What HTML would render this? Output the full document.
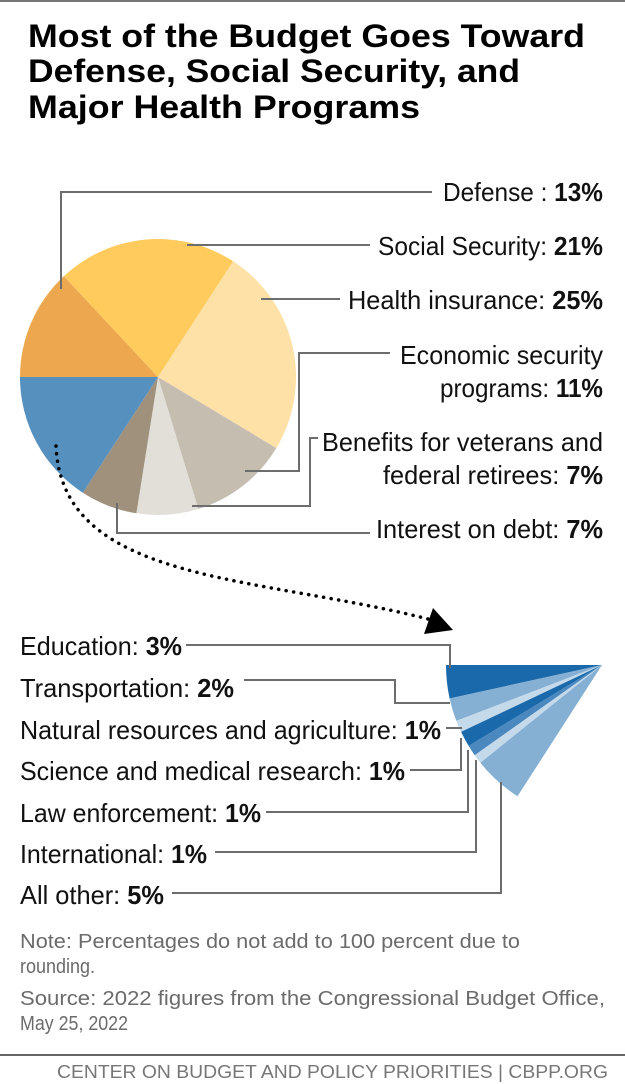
<!DOCTYPE html>
<html><head><meta charset="utf-8"><style>
html,body{margin:0;padding:0;background:#fff;}
svg{display:block;}
text{font-family:"Liberation Sans",sans-serif;}
</style></head><body>
<svg width="625" height="1084" viewBox="0 0 625 1084" xmlns="http://www.w3.org/2000/svg">
<rect x="0" y="0" width="625" height="2" fill="#777"/>
<g font-weight="bold" font-size="32" fill="#000">
<text x="28" y="47" textLength="557" lengthAdjust="spacingAndGlyphs">Most of the Budget Goes Toward</text>
<text x="28" y="82" textLength="492" lengthAdjust="spacingAndGlyphs">Defense, Social Security, and</text>
<text x="28" y="118" textLength="392" lengthAdjust="spacingAndGlyphs">Major Health Programs</text>
</g>
<g>
<path d="M158,377 L20,377 A138,138 0 0 1 63.9,276.1 Z" fill="#eda84f"/>
<path d="M158,377 L63.9,276.1 A138,138 0 0 1 233.2,261.3 Z" fill="#fecb5c"/>
<path d="M158,377 L233.2,261.3 A138,138 0 0 1 276.3,448.1 Z" fill="#fde1a6"/>
<path d="M158,377 L276.3,448.1 A138,138 0 0 1 198.3,509 Z" fill="#c5bdb0"/>
<path d="M158,377 L198.3,509 A138,138 0 0 1 136.4,513.3 Z" fill="#e2dfd9"/>
<path d="M158,377 L136.4,513.3 A138,138 0 0 1 82.8,492.7 Z" fill="#a0917d"/>
<path d="M158,377 L82.8,492.7 A138,138 0 0 1 20,377 Z" fill="#5590bf"/>
</g>
<g fill="none" stroke="#6d6d6d" stroke-width="2">
<polyline points="61,289 61,192 432,192"/>
<polyline points="187,245 370,245"/>
<polyline points="261,299 340,299"/>
<polyline points="245,471 299,471 299,353 390,353"/>
<polyline points="192,506 310,506 310,438 318,438"/>
<polyline points="117,503 117,533 370,533"/>
</g>
<g font-size="26" fill="#111">
<text x="443" y="201" textLength="160" lengthAdjust="spacingAndGlyphs">Defense : <tspan font-weight="bold">13%</tspan></text>
<text x="378" y="255" textLength="225" lengthAdjust="spacingAndGlyphs">Social Security: <tspan font-weight="bold">21%</tspan></text>
<text x="348" y="309" textLength="255" lengthAdjust="spacingAndGlyphs">Health insurance: <tspan font-weight="bold">25%</tspan></text>
<text x="400" y="364" textLength="203" lengthAdjust="spacingAndGlyphs">Economic security</text>
<text x="440" y="397" textLength="163" lengthAdjust="spacingAndGlyphs">programs: <tspan font-weight="bold">11%</tspan></text>
<text x="322" y="451" textLength="281" lengthAdjust="spacingAndGlyphs">Benefits for veterans and</text>
<text x="383" y="484" textLength="220" lengthAdjust="spacingAndGlyphs">federal retirees: <tspan font-weight="bold">7%</tspan></text>
<text x="376" y="538" textLength="227" lengthAdjust="spacingAndGlyphs">Interest on debt: <tspan font-weight="bold">7%</tspan></text>
</g>
<path d="M56,446 C 62,585 260,575 432,620" fill="none" stroke="#000" stroke-width="3.5" stroke-linecap="round" stroke-dasharray="0.1 7.5"/>
<polygon points="453,630 424,634 433,608" fill="#000"/>
<g>
<path d="M602,665 L446,665 A156,156 0 0 0 449.6,698.5 Z" fill="#1a69aa"/>
<path d="M602,665 L449.6,698.5 A156,156 0 0 0 456.4,720.9 Z" fill="#85b0d4"/>
<path d="M602,665 L456.4,720.9 A156,156 0 0 0 461.1,731.9 Z" fill="#c4d9ea"/>
<path d="M602,665 L461.1,731.9 A156,156 0 0 0 468.7,746 Z" fill="#1a69aa"/>
<path d="M602,665 L468.7,746 A156,156 0 0 0 474.7,755.2 Z" fill="#4a88bf"/>
<path d="M602,665 L474.7,755.2 A156,156 0 0 0 480.4,762.7 Z" fill="#c4d9ea"/>
<path d="M602,665 L480.4,762.7 A156,156 0 0 0 517.5,796.3 Z" fill="#85b0d4"/>
</g>
<g fill="none" stroke="#6d6d6d" stroke-width="2">
<polyline points="186,645 450,645 450,668"/>
<polyline points="244,680 395,680 395,703 450,703"/>
<polyline points="446,728 462,728"/>
<polyline points="410,770 461,770 461,738"/>
<polyline points="266,812 468,812 468,750"/>
<polyline points="215,852 476,852 476,760"/>
<polyline points="172,893 501,893 501,782"/>
</g>
<g font-size="26" fill="#111">
<text x="20" y="655" textLength="162" lengthAdjust="spacingAndGlyphs">Education: <tspan font-weight="bold">3%</tspan></text>
<text x="20" y="697" textLength="214" lengthAdjust="spacingAndGlyphs">Transportation: <tspan font-weight="bold">2%</tspan></text>
<text x="20" y="739" textLength="421" lengthAdjust="spacingAndGlyphs">Natural resources and agriculture: <tspan font-weight="bold">1%</tspan></text>
<text x="20" y="780" textLength="385" lengthAdjust="spacingAndGlyphs">Science and medical research: <tspan font-weight="bold">1%</tspan></text>
<text x="20" y="822" textLength="241" lengthAdjust="spacingAndGlyphs">Law enforcement: <tspan font-weight="bold">1%</tspan></text>
<text x="20" y="863" textLength="187" lengthAdjust="spacingAndGlyphs">International: <tspan font-weight="bold">1%</tspan></text>
<text x="20" y="904" textLength="144" lengthAdjust="spacingAndGlyphs">All other: <tspan font-weight="bold">5%</tspan></text>
</g>
<g font-size="20" fill="#6b6b6b">
<text x="20" y="948" textLength="500" lengthAdjust="spacingAndGlyphs">Note: Percentages do not add to 100 percent due to</text>
<text x="20" y="973" textLength="75" lengthAdjust="spacingAndGlyphs">rounding.</text>
<text x="20" y="1005" textLength="585" lengthAdjust="spacingAndGlyphs">Source: 2022 figures from the Congressional Budget Office,</text>
<text x="20" y="1030" textLength="108" lengthAdjust="spacingAndGlyphs">May 25, 2022</text>
</g>
<rect x="0" y="1054" width="625" height="2" fill="#666"/>
<text x="57" y="1078" font-size="18" fill="#777" textLength="551" lengthAdjust="spacingAndGlyphs">CENTER ON BUDGET AND POLICY PRIORITIES | CBPP.ORG</text>
</svg>
</body></html>
